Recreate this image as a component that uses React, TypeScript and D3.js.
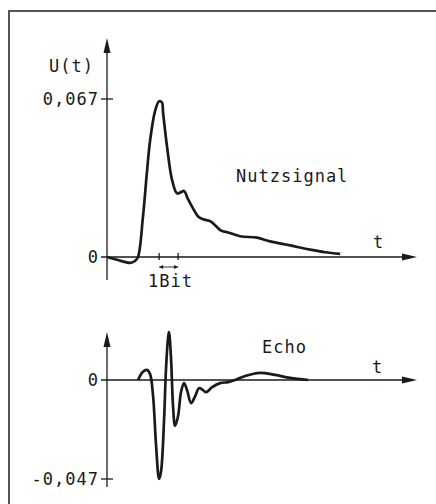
import * as d3 from "d3";

// time axis in bit periods, voltage values
const nutzT = [0, 0.58, 1.21, 1.47, 1.63, 1.89, 2.1, 2.26, 2.53, 2.74, 2.89, 2.95, 3.16, 3.42, 3.68, 3.89, 4.05, 4.26, 4.53, 4.79, 5.05, 5.42, 5.68, 6.0, 6.37, 7.0, 7.89, 8.58, 9.63, 10.68, 11.47, 12.26];
const nutzU = [0, -0.0013, -0.0025, -0.0017, 0, 0.017, 0.036, 0.049, 0.062, 0.066, 0.0655, 0.061, 0.0466, 0.0327, 0.027, 0.0275, 0.028, 0.0245, 0.0205, 0.0172, 0.016, 0.0152, 0.0135, 0.0112, 0.0104, 0.0088, 0.0082, 0.0066, 0.0049, 0.0031, 0.002, 0.0013];

const echoT = [1.63, 1.89, 2.1, 2.26, 2.42, 2.58, 2.74, 2.84, 3.0, 3.1, 3.21, 3.26, 3.37, 3.47, 3.58, 3.74, 3.89, 4.05, 4.21, 4.42, 4.63, 4.84, 5.05, 5.21, 5.53, 5.95, 6.37, 6.74, 7.26, 8.05, 8.84, 9.63, 10.58];
const echoU = [0, 0.0039, 0.0048, 0.0029, -0.0073, -0.031, -0.047, -0.0436, -0.019, 0.0048, 0.02, 0.0228, 0.0097, -0.012, -0.0218, -0.017, -0.0058, -0.0015, -0.0048, -0.011, -0.0078, -0.0039, -0.0048, -0.0058, -0.0034, -0.0015, -0.001, 0, 0.0019, 0.0034, 0.0024, 0.001, 0];

const topTicks = [0, 0.067];
const bottomTicks = [0, -0.047];
const bitMarks = [2.74, 3.74];

const FONT = "'DejaVu Sans Mono', monospace";
const INK = "#1a1a1a";

const de = d3.formatLocale({ decimal: ",", thousands: ".", grouping: [3], currency: ["", ""], minus: "-" });
const fmt = (v: number) => (v === 0 ? "0" : de.format(".3f")(v));

const x = d3.scaleLinear().domain([0, 16.3]).range([107, 417]);
const yTop = d3.scaleLinear().domain([0, 0.067]).range([257, 99]);
const yBot = d3.scaleLinear().domain([-0.047, 0]).range([479, 380]);

function Arrow({ x0, y0, dir }: { x0: number; y0: number; dir: "up" | "right" }) {
  const p = dir === "up"
    ? `M${x0},${y0} L${x0 - 3.5},${y0 + 15} L${x0 + 3.5},${y0 + 15} Z`
    : `M${x0},${y0} L${x0 - 15},${y0 - 3.5} L${x0 - 15},${y0 + 3.5} Z`;
  return <path d={p} fill={INK} />;
}

function Panel({ y, t, u, ticks, axisTop, axisBottom, xStart }: {
  y: d3.ScaleLinear<number, number>; t: number[]; u: number[]; ticks: number[];
  axisTop: number; axisBottom: number; xStart: number;
}) {
  const line = d3.line<number>()
    .x((_, i) => x(t[i]))
    .y((d) => y(d))
    .curve(d3.curveCatmullRom.alpha(0.5));
  const y0 = y(0);
  return (
    <g>
      <line x1={x(0)} x2={x(0)} y1={axisBottom} y2={axisTop + 10} stroke={INK} strokeWidth={1.3} />
      <Arrow x0={x(0)} y0={axisTop} dir="up" />
      <line x1={xStart} x2={x.range()[1] - 10} y1={y0} y2={y0} stroke={INK} strokeWidth={1.3} />
      <Arrow x0={x.range()[1]} y0={y0} dir="right" />
      {ticks.map((v) => (
        <g key={v}>
          {v !== 0 && <line x1={x(0) - 6} x2={x(0) + 6} y1={y(v)} y2={y(v)} stroke={INK} strokeWidth={1.3} />}
          <text x={x(0) - 8} y={y(v) + 6} textAnchor="end" fontFamily={FONT} fontSize={17} letterSpacing={1} fill={INK}>
            {fmt(v)}
          </text>
        </g>
      ))}
      <path d={line(u) ?? ""} fill="none" stroke={INK} strokeWidth={2.7} strokeLinejoin="round" />
    </g>
  );
}

export default function App() {
  const yb = yTop(0);
  return (
    <svg width={436} height={504} style={{ position: "absolute", left: 0, top: 0, background: "#fff" }}>
      <rect x={0} y={0} width={436} height={504} fill="#fff" />
      <path d="M9,504 L9,11 L436,11" fill="none" stroke="#555" strokeWidth={2} />

      <Panel y={yTop} t={nutzT} u={nutzU} ticks={topTicks} axisTop={38} axisBottom={280} xStart={101} />
      <Panel y={yBot} t={echoT} u={echoU} ticks={bottomTicks} axisTop={332} axisBottom={487} xStart={101} />

      <text x={94} y={72} textAnchor="end" fontFamily={FONT} fontSize={17} letterSpacing={1} fill={INK}>U(t)</text>
      <text x={236} y={182} fontFamily={FONT} fontSize={17} letterSpacing={1} fill={INK}>Nutzsignal</text>
      <text x={378} y={248} textAnchor="middle" fontFamily={FONT} fontSize={17} fill={INK}>t</text>
      <text x={262} y={353} fontFamily={FONT} fontSize={17} letterSpacing={1} fill={INK}>Echo</text>
      <text x={377} y={373} textAnchor="middle" fontFamily={FONT} fontSize={17} fill={INK}>t</text>

      {bitMarks.map((b) => (
        <line key={b} x1={x(b)} x2={x(b)} y1={yb - 4} y2={yb + 3} stroke={INK} strokeWidth={1.3} />
      ))}
      <line x1={x(bitMarks[0])} x2={x(bitMarks[1])} y1={yb + 10} y2={yb + 10} stroke={INK} strokeWidth={0.9} />
      <path d={`M${x(bitMarks[0])},${yb + 10} l4,-2 l0,4 Z M${x(bitMarks[1])},${yb + 10} l-4,-2 l0,4 Z`} fill={INK} />
      <text x={148} y={287} fontFamily={FONT} fontSize={17} letterSpacing={1} fill={INK}>1Bit</text>
    </svg>
  );
}
